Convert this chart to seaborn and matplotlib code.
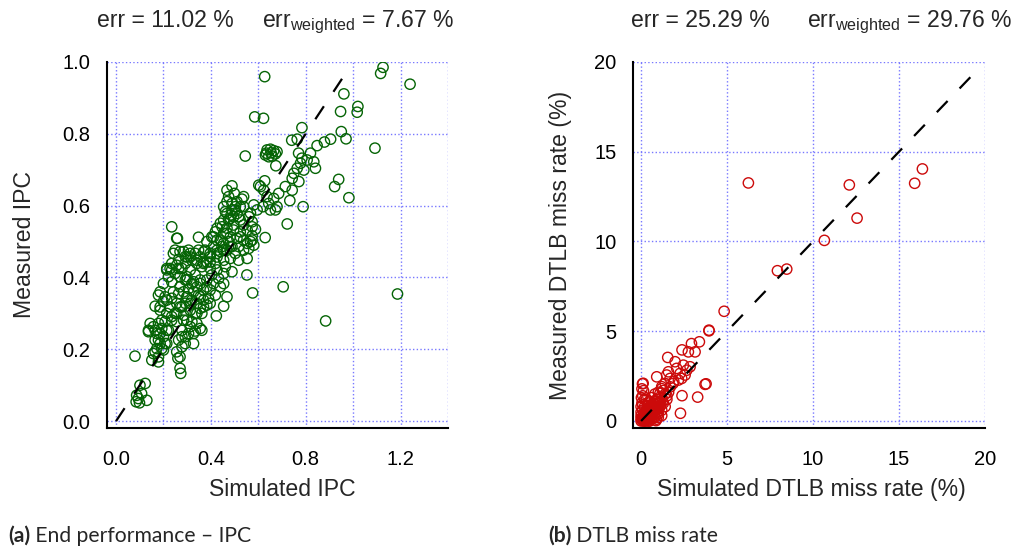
import matplotlib
matplotlib.use("Agg")
import matplotlib.pyplot as plt
import seaborn as sns
import pandas as pd

# ---------------- data ----------------
ipc_simulated = [
    0.627, 1.126, 1.116, 1.240, 0.961, 0.947, 1.020, 1.017, 0.585, 0.622, 0.784, 0.950, 0.970,
    1.092, 0.905, 0.879, 0.848, 0.741, 0.764,
    0.637, 0.651, 0.665, 0.630, 0.644, 0.658, 0.672, 0.634, 0.679, 0.654,
    0.545, 0.674, 0.770, 0.784, 0.820, 0.834, 0.841, 0.764, 0.778, 0.750, 0.743, 0.771, 0.792,
    0.806, 0.939, 0.922, 0.982, 0.789, 0.722, 0.733, 0.602, 0.627, 0.623, 0.637, 0.665, 0.679,
    0.620, 0.651, 0.672, 0.644, 0.686, 0.714, 0.743, 0.629, 0.705, 0.884, 1.187, 0.576, 0.552,
    0.609, 0.595,
    0.489, 0.499, 0.475, 0.531, 0.538, 0.581, 0.489, 0.510, 0.468, 0.454, 0.496, 0.475, 0.524,
    0.560, 0.574, 0.553, 0.524, 0.496, 0.440, 0.419, 0.454, 0.482, 0.510, 0.538, 0.567, 0.581,
    0.560, 0.517, 0.489, 0.454, 0.426, 0.404, 0.383, 0.411, 0.440, 0.468, 0.503, 0.538, 0.517,
    0.553, 0.482, 0.454, 0.426, 0.397, 0.376, 0.355, 0.383, 0.419, 0.461, 0.489, 0.454, 0.426,
    0.397, 0.362, 0.341, 0.320, 0.299, 0.285, 0.306, 0.348, 0.348, 0.259, 0.270, 0.242, 0.264,
    0.292, 0.313, 0.334, 0.355, 0.383, 0.411, 0.440, 0.468, 0.454, 0.423, 0.390, 0.369, 0.341,
    0.320, 0.292, 0.270, 0.249, 0.228, 0.221, 0.235, 0.200, 0.306, 0.285, 0.299, 0.320, 0.341,
    0.355, 0.362, 0.334, 0.313, 0.278, 0.256, 0.235, 0.207, 0.179, 0.200, 0.165, 0.186, 0.214,
    0.235, 0.207, 0.179, 0.158, 0.193, 0.221, 0.137, 0.172, 0.200, 0.165, 0.186, 0.214, 0.172,
    0.158, 0.179, 0.151, 0.200, 0.278, 0.292, 0.264, 0.278, 0.256, 0.270, 0.261, 0.270, 0.273,
    0.306, 0.327, 0.334, 0.355, 0.320, 0.299, 0.285, 0.249, 0.256, 0.228, 0.264, 0.186, 0.292,
    0.080,
    0.123, 0.101, 0.087, 0.108, 0.094, 0.130, 0.099, 0.085,
    0.468, 0.510, 0.489, 0.468, 0.503, 0.482, 0.447, 0.468, 0.538, 0.574, 0.426, 0.447, 0.475,
    0.397, 0.369, 0.404, 0.433, 0.454, 0.397, 0.419, 0.327, 0.348, 0.369, 0.383, 0.299, 0.278,
    0.256, 0.235, 0.214, 0.249, 0.334, 0.369, 0.313,
    0.235, 0.256, 0.214, 0.235, 0.264, 0.292, 0.313, 0.341, 0.369, 0.397, 0.426, 0.440, 0.468,
    0.496, 0.524, 0.553, 0.574, 0.482, 0.454, 0.299, 0.327, 0.355, 0.383, 0.270, 0.242, 0.214,
    0.186, 0.193, 0.214, 0.186, 0.165, 0.179, 0.207, 0.193, 0.165, 0.179, 0.278, 0.292, 0.285,
    0.313, 0.341, 0.362, 0.327, 0.256, 0.235, 0.270, 0.313, 0.341, 0.369, 0.397, 0.355, 0.299,
    0.144, 0.137,
    0.461, 0.485, 0.503, 0.517, 0.454, 0.426, 0.411, 0.574, 0.588, 0.567, 0.524, 0.538,
]
ipc_measured = [
    0.959, 0.985, 0.968, 0.938, 0.911, 0.862, 0.876, 0.860, 0.847, 0.843, 0.817, 0.806, 0.786,
    0.760, 0.785, 0.777, 0.767, 0.782, 0.785,
    0.755, 0.757, 0.753, 0.741, 0.736, 0.738, 0.744, 0.746, 0.750, 0.747,
    0.738, 0.711, 0.746, 0.732, 0.746, 0.722, 0.704, 0.704, 0.718, 0.690, 0.676, 0.667, 0.699,
    0.727, 0.673, 0.653, 0.622, 0.597, 0.549, 0.614, 0.657, 0.669, 0.643, 0.625, 0.620, 0.597,
    0.597, 0.588, 0.588, 0.606, 0.634, 0.653, 0.643, 0.511, 0.374, 0.279, 0.354, 0.357, 0.407,
    0.653, 0.588,
    0.655, 0.634, 0.625, 0.618, 0.597, 0.602, 0.588, 0.578, 0.578, 0.597, 0.569, 0.560, 0.560,
    0.569, 0.541, 0.532, 0.527, 0.546, 0.551, 0.527, 0.523, 0.513, 0.509, 0.504, 0.500, 0.490,
    0.481, 0.486, 0.486, 0.495, 0.504, 0.513, 0.500, 0.486, 0.472, 0.476, 0.467, 0.476, 0.448,
    0.453, 0.453, 0.448, 0.457, 0.467, 0.476, 0.457, 0.443, 0.439, 0.430, 0.416, 0.411, 0.421,
    0.425, 0.430, 0.439, 0.448, 0.457, 0.472, 0.476, 0.476, 0.512, 0.509, 0.472, 0.467, 0.450,
    0.439, 0.421, 0.407, 0.393, 0.393, 0.383, 0.374, 0.346, 0.320, 0.293, 0.342, 0.365, 0.374,
    0.383, 0.393, 0.402, 0.411, 0.425, 0.402, 0.388, 0.383, 0.369, 0.360, 0.346, 0.337, 0.328,
    0.314, 0.300, 0.300, 0.309, 0.318, 0.328, 0.342, 0.346, 0.351, 0.333, 0.320, 0.309, 0.300,
    0.291, 0.277, 0.272, 0.263, 0.258, 0.253, 0.249, 0.244, 0.235, 0.226, 0.216, 0.216, 0.202,
    0.188, 0.165, 0.170, 0.198, 0.253, 0.235, 0.226, 0.207, 0.193, 0.179, 0.175, 0.147, 0.133,
    0.244, 0.216, 0.251, 0.258, 0.277, 0.281, 0.295, 0.300, 0.277, 0.318, 0.355, 0.360, 0.328,
    0.181,
    0.105, 0.100, 0.072, 0.077, 0.063, 0.058, 0.051, 0.054,
    0.643, 0.611, 0.606, 0.611, 0.597, 0.565, 0.541, 0.537, 0.546, 0.516, 0.476, 0.486, 0.500,
    0.443, 0.443, 0.407, 0.397, 0.383, 0.365, 0.351, 0.360, 0.351, 0.337, 0.323, 0.393, 0.425,
    0.434, 0.439, 0.425, 0.476, 0.467, 0.471, 0.457,
    0.541, 0.509, 0.421, 0.421, 0.425, 0.458, 0.467, 0.448, 0.439, 0.458, 0.467, 0.504, 0.523,
    0.532, 0.513, 0.495, 0.504, 0.486, 0.476, 0.402, 0.388, 0.383, 0.374, 0.374, 0.360, 0.337,
    0.318, 0.281, 0.253, 0.244, 0.253, 0.226, 0.216, 0.202, 0.193, 0.179, 0.235, 0.216, 0.281,
    0.263, 0.272, 0.253, 0.244, 0.300, 0.281, 0.318, 0.328, 0.300, 0.318, 0.328, 0.346, 0.346,
    0.272, 0.253,
    0.583, 0.574, 0.588, 0.569, 0.560, 0.537, 0.513, 0.555, 0.534, 0.579, 0.597, 0.625,
]

dtlb_simulated = [
    6.24, 12.11, 16.36, 15.91, 12.56, 10.66, 7.93, 8.47, 4.83, 3.95, 3.95, 3.39, 2.93, 2.75,
    3.14, 2.38, 1.55, 3.78, 3.72, 2.38, 3.29, 2.29, 0.91, 0.08, 0.14, 0.02,
    1.59, 1.49, 1.69, 1.98, 2.07, 2.27, 2.36, 2.56, 2.66, 2.46, 2.17, 1.86, 1.40, 2.85, 1.20, 1.10,
    0.05, 0.10, 0.20, 0.30, 0.15, 0.40, 0.50, 0.60, 0.70, 0.80, 0.90, 1.00, 1.10, 1.20, 0.30,
    0.50, 0.70, 0.90, 0.40, 0.20, 0.10, 0.60, 0.80, 1.00, 1.20, 1.30, 1.40, 0.30, 0.00, 0.05,
    0.10, 0.60, 1.00, 0.80, 1.20, 1.50, 1.60, 0.90, 0.45, 0.20, 0.00, 0.10, 0.25, 0.35, 0.55,
    0.65, 0.75, 0.85, 0.95, 1.05, 1.15, 0.40, 0.50, 1.30, 0.87, 0.12, 0.05,
    0.20, 0.30, 0.40, 0.50, 0.60, 0.70, 0.80, 0.90, 1.00, 1.10, 0.25, 0.45, 0.65, 0.85, 1.05,
    0.15, 0.35, 0.55, 0.75, 0.95, 1.25, 1.50, 1.70, 1.90, 0.00, 0.00, 0.10, 0.30, 0.60, 1.00,
    1.20, 0.50, 0.70, 0.15, 0.00, 0.40, 0.20, 1.40,
]
dtlb_measured = [
    13.26, 13.15, 14.04, 13.24, 11.30, 10.06, 8.37, 8.46, 6.11, 5.06, 5.02, 4.41, 4.31, 3.85,
    3.85, 3.96, 3.54, 2.07, 2.04, 1.41, 1.33, 0.43, 2.46, 2.07, 1.69, 1.30,
    2.74, 2.56, 2.37, 3.30, 2.93, 2.65, 2.37, 2.56, 2.83, 3.11, 2.28, 2.09, 2.09, 3.02, 1.91, 1.54,
    0.05, 0.20, 0.10, 0.30, 0.40, 0.20, 0.50, 0.40, 0.70, 0.60, 0.90, 0.80, 1.10, 1.30, 0.60,
    0.80, 1.00, 1.20, 1.00, 0.80, 0.60, 0.10, 0.20, 0.40, 0.60, 1.00, 1.50, 0.00, 0.30, 1.00,
    1.40, 1.30, 1.60, 1.50, 1.80, 1.20, 1.60, 0.10, 0.00, 0.00, 0.00, 0.10, 0.15, 0.45, 0.25,
    0.60, 0.35, 0.75, 0.50, 1.00, 0.90, 0.70, 1.10, 1.70, 0.02, 2.10, 1.79,
    0.30, 0.20, 0.40, 0.30, 0.60, 0.50, 0.80, 0.70, 1.00, 0.80, 0.50, 0.60, 0.90, 1.10, 1.30,
    0.20, 0.10, 0.45, 0.55, 0.65, 1.10, 1.40, 1.90, 2.20, 0.50, 0.80, 0.90, 1.20, 0.25, 0.20,
    0.30, 0.00, 0.15, 0.00, 0.15, 0.85, 1.20, 0.80,
]

diag_ipc = [0.0, 0.96]
diag_dtlb = [0.0, 19.2]

err_texts = [("err = 11.02 %", r"err$_{\mathrm{weighted}}$ = 7.67 %"),
             ("err = 25.29 %", r"err$_{\mathrm{weighted}}$ = 29.76 %")]
captions = [("(a)", " End performance – IPC"), ("(b)", " DTLB miss rate")]

ipc_ticks = [0.0, 0.2, 0.4, 0.6, 0.8, 1.0, 1.2, 1.4]
ipc_xticklabels = ["0.0", "", "0.4", "", "0.8", "", "1.2", ""]
ipc_yticks = [0.0, 0.2, 0.4, 0.6, 0.8, 1.0]
dtlb_ticks = [0, 5, 10, 15, 20]

# ---------------- style ----------------
sns.set_style("white")
plt.rcParams["font.family"] = ["Liberation Sans", "DejaVu Sans"]
plt.rcParams["mathtext.fontset"] = "custom"
plt.rcParams["mathtext.rm"] = "Liberation Sans"
plt.rcParams["mathtext.it"] = "Liberation Sans:italic"
plt.rcParams["mathtext.bf"] = "Liberation Sans:bold"

GREEN = "#056405"
RED = "#cc0a0a"
GRID = "#7878ff"
LABEL_FS = 16.6
TICK_FS = 14.5
CAP_FS = 15.2

W, H = 1014, 548
fig = plt.figure(figsize=(W / 100, H / 100), dpi=100)
ax1 = fig.add_axes([107 / W, 0.219, 341 / W, 0.668])
ax2 = fig.add_axes([633 / W, 0.219, 352 / W, 0.668])

df_ipc = pd.DataFrame({"sim": ipc_simulated, "meas": ipc_measured})
df_dtlb = pd.DataFrame({"sim": dtlb_simulated, "meas": dtlb_measured})


def style_axes(ax):
    for s in ["top", "right"]:
        ax.spines[s].set_visible(False)
    for s in ["left", "bottom"]:
        ax.spines[s].set_linewidth(1.5)
        ax.spines[s].set_color("black")
    ax.grid(True, color=GRID, linestyle=":", linewidth=1.0)
    ax.set_axisbelow(True)
    ax.tick_params(axis="both", direction="out", length=9, width=1.2,
                   labelsize=TICK_FS, colors="black")
    ax.tick_params(axis="x", pad=7)
    ax.tick_params(axis="y", pad=3)


for ax, df, col, diag in [(ax1, df_ipc, GREEN, diag_ipc), (ax2, df_dtlb, RED, diag_dtlb)]:
    sns.scatterplot(data=df, x="sim", y="meas", ax=ax, marker="o", s=55,
                    facecolors="none", edgecolor=col, linewidth=1.0, zorder=2)
    sns.lineplot(x=diag, y=diag, ax=ax, color="black", linewidth=1.6,
                 dashes=False, zorder=3)
    ax.lines[-1].set_dashes((7, 7.8))
    style_axes(ax)

ax1.set_xlim(-0.038, 1.4)
ax1.set_ylim(-0.019, 1.0)
ax1.set_xticks(ipc_ticks)
ax1.set_xticklabels(ipc_xticklabels)
ax1.set_yticks(ipc_yticks)
ax1.set_yticklabels([f"{v:.1f}" for v in ipc_yticks])
ax1.set_xlabel("Simulated IPC", fontsize=LABEL_FS)
ax1.set_ylabel("Measured IPC", fontsize=LABEL_FS)
ax1.xaxis.set_label_coords(0.513, -0.136)
ax1.yaxis.set_label_coords(-0.208, 0.5)

ax2.set_xlim(-0.47, 20)
ax2.set_ylim(-0.39, 20)
ax2.set_xticks(dtlb_ticks)
ax2.set_yticks(dtlb_ticks)
ax2.set_xlabel("Simulated DTLB miss rate (%)", fontsize=LABEL_FS)
ax2.set_ylabel("Measured DTLB miss rate (%)", fontsize=LABEL_FS)
ax2.xaxis.set_label_coords(0.507, -0.136)
ax2.yaxis.set_label_coords(-0.172, 0.5)

# error annotations
ybase = (H - 27) / H
for (t1, t2), x1, x2 in zip(err_texts, [97, 631], [262, 807]):
    fig.text(x1 / W, ybase, t1, fontsize=LABEL_FS, va="baseline", ha="left")
    fig.text(x2 / W, ybase, t2, fontsize=LABEL_FS, va="baseline", ha="left")

# captions
renderer = fig.canvas.get_renderer()
for (b, rest), x0 in zip(captions, [8, 548]):
    tb = fig.text(x0 / W, 6 / H, b, fontsize=CAP_FS, family=["Lato", "DejaVu Sans"],
                  fontweight="bold", va="baseline", ha="left")
    bb = tb.get_window_extent(renderer)
    fig.text(bb.x1 / W, 6 / H, rest, fontsize=CAP_FS, family=["Lato", "DejaVu Sans"],
             va="baseline", ha="left")

fig.savefig("out.png", dpi=100)
